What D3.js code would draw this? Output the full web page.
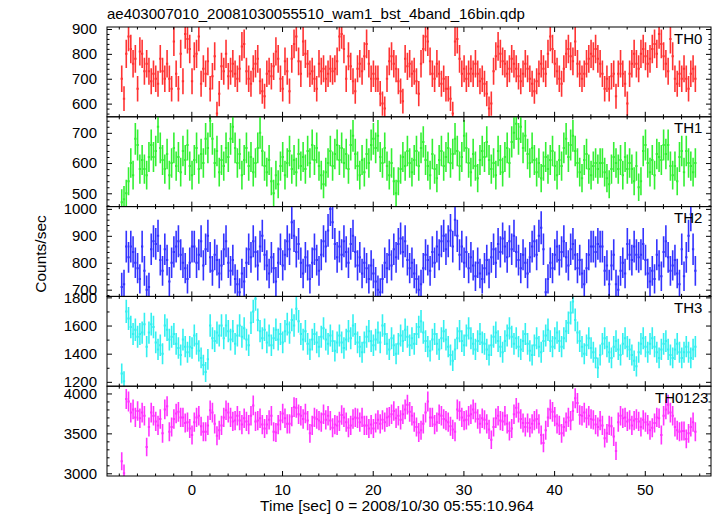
<!DOCTYPE html>
<html><head><meta charset="utf-8">
<script src="https://cdn.jsdelivr.net/npm/d3@7"></script>
<style>
body{margin:0;background:#fff}
svg{display:block}
text{font-family:"Liberation Sans",Arial,Helvetica,sans-serif}
</style>
</head><body>
<svg id="c" width="717" height="516"></svg>
<script>
// ---------------- data ----------------
const title = "ae403007010_20081030055510_wam1_bst_4band_16bin.qdp";
const xLabel = "Time [sec] 0 = 2008/10/30 05:55:10.964";
const yLabel = "Counts/sec";
const channels = ["TH0", "TH1", "TH2", "TH3", "TH0123"];
const binStart = -7.8;      // s, start of first bin
const binSeconds = 0.25;    // s, bin width
const xRange = [-9.3, 57.3];
const xMajorTicks = [0, 10, 20, 30, 40, 50];

const th0 = [
700,620,800,870,820,760,780,660,810,800,730,760,730,690,720,700,
680,780,730,700,760,700,660,850,720,660,800,690,880,860,820,690,
790,800,870,680,740,720,770,660,710,790,560,640,750,730,800,710,
730,760,720,700,740,830,840,730,700,680,740,760,780,690,650,630,
720,730,710,750,810,780,700,660,770,730,650,780,840,870,770,720,
850,800,760,720,730,700,660,760,730,740,700,720,740,730,740,770,
870,880,820,700,790,750,690,650,740,760,730,790,840,760,700,720,
700,700,640,600,580,700,770,790,760,740,690,650,610,780,750,760,
720,730,690,640,760,820,870,850,770,720,700,760,720,680,700,660,
660,620,560,850,860,780,720,740,700,720,740,720,760,720,690,700,
680,640,580,600,730,790,830,800,770,760,720,740,780,760,740,710,
690,720,760,740,700,680,650,690,720,760,740,720,800,870,820,760,
730,700,680,740,800,820,790,770,850,760,720,700,720,760,780,800,
790,820,780,760,720,660,700,660,710,720,630,720,760,720,680,600,
720,760,800,760,740,800,820,790,760,780,820,840,800,880,840,790,
760,730,860,790,700,680,720,700,740,700,660,720,740,700];

const th1 = [
470,480,500,540,600,560,680,660,580,610,580,560,620,660,620,640,
720,650,610,580,630,560,600,650,590,620,570,640,610,660,590,560,
610,650,580,630,600,680,650,740,680,600,640,570,610,590,650,620,
680,720,650,600,630,560,610,650,590,620,570,600,650,700,640,590,
570,610,540,500,560,530,590,620,560,600,640,580,610,570,630,590,
620,580,640,600,660,610,650,590,560,530,570,600,640,590,630,660,
610,650,600,630,580,660,690,630,590,560,610,570,630,600,660,680,
650,690,620,600,650,590,560,600,540,500,540,580,620,590,640,600,
570,610,640,590,650,670,610,590,560,630,580,550,610,640,590,620,
650,600,630,680,640,590,620,690,650,600,570,630,590,550,610,640,
620,670,610,580,600,560,640,610,570,620,650,600,670,700,730,680,
720,650,690,630,600,650,610,570,600,550,590,620,580,610,640,590,
560,610,590,650,680,620,660,690,640,600,570,550,610,630,580,560,
590,600,580,600,600,570,550,530,580,620,600,580,610,560,620,580,
600,580,540,590,520,540,640,660,600,570,610,560,630,620,610,660,
630,660,590,560,590,540,620,640,570,640,600,590,570,600];

const th2 = [
710,720,860,820,860,840,800,780,740,860,770,700,710,850,880,870,
900,810,770,850,810,730,800,840,860,880,830,800,780,740,800,860,
860,800,830,880,790,850,900,820,770,830,810,760,790,850,880,800,
770,810,740,720,690,760,730,800,850,820,880,840,790,860,900,830,
790,760,820,780,730,800,850,790,830,880,850,950,900,840,870,800,
760,820,790,740,800,850,810,770,830,880,860,920,1000,950,870,820,
860,830,880,840,800,870,900,840,790,820,760,800,780,740,790,760,
730,700,690,740,800,780,830,790,850,820,870,890,840,880,810,780,
800,760,740,700,720,780,830,810,770,840,800,860,830,880,900,850,
880,920,860,960,900,830,860,800,840,780,820,790,750,800,760,740,
780,810,760,820,850,800,870,840,890,860,820,880,850,900,840,810,
780,830,800,760,820,860,880,830,900,930,850,690,740,800,780,830,
860,810,840,880,820,790,850,870,830,780,810,760,720,780,830,860,
860,840,870,860,860,770,790,720,790,830,720,700,770,800,760,870,
830,810,860,830,820,830,870,810,760,730,770,740,830,790,750,840,
880,820,770,790,810,760,720,850,750,820,900,980,850,770];

const th3 = [
1260,1205,1700,1650,1590,1540,1570,1520,1540,1550,1610,1450,1550,1610,1590,1480,
1430,1460,1400,1600,1570,1500,1520,1540,1470,1440,1390,1500,1450,1410,1450,1440,
1530,1470,1420,1370,1320,1270,1360,1600,1510,1490,1550,1530,1600,1510,1600,1560,
1500,1560,1470,1530,1600,1520,1580,1500,1460,1620,1700,1790,1640,1560,1510,1570,
1480,1530,1460,1510,1570,1500,1540,1480,1560,1610,1550,1640,1600,1720,1630,1540,
1500,1560,1470,1430,1500,1540,1480,1450,1520,1580,1500,1470,1530,1490,1420,1480,
1530,1480,1440,1500,1560,1510,1600,1540,1480,1450,1410,1480,1520,1560,1490,1460,
1500,1550,1480,1600,1540,1470,1430,1510,1460,1400,1470,1530,1490,1570,1520,1460,
1510,1470,1540,1590,1630,1550,1490,1450,1420,1500,1540,1470,1430,1510,1560,1500,
1450,1390,1350,1430,1510,1560,1490,1460,1530,1580,1510,1470,1430,1490,1540,1480,
1470,1430,1390,1460,1520,1550,1490,1450,1410,1490,1530,1580,1520,1470,1510,1450,
1430,1490,1540,1470,1420,1390,1460,1510,1450,1410,1490,1530,1570,1490,1450,1510,
1550,1490,1450,1510,1560,1620,1690,1770,1640,1550,1490,1450,1400,1460,1510,1440,
1410,1370,1300,1390,1470,1510,1450,1410,1370,1450,1490,1430,1390,1470,1510,1450,
1430,1390,1350,1310,1410,1470,1510,1450,1410,1470,1510,1450,1410,1370,1430,1470,
1490,1430,1390,1370,1430,1470,1410,1370,1410,1450,1410,1370,1430,1450];

const th0123 = [
3150,3000,3930,3900,3760,3800,3700,3780,3690,3760,3720,3330,3580,3760,3720,3650,
3600,3680,3500,3800,3840,3520,3580,3680,3750,3770,3700,3700,3630,3640,3560,3480,
3640,3700,3720,3590,3520,3520,3600,3790,3760,3620,3470,3540,3600,3700,3790,3760,
3700,3650,3660,3720,3660,3610,3690,3650,3610,3720,3850,3650,3660,3690,3610,3560,
3610,3670,3720,3520,3510,3610,3660,3750,3690,3620,3620,3710,3830,3820,3740,3720,
3680,3750,3660,3500,3600,3700,3680,3660,3640,3740,3670,3720,3660,3570,3610,3600,
3650,3730,3700,3640,3570,3600,3680,3700,3690,3640,3700,3600,3600,3560,3610,3560,
3630,3670,3620,3670,3640,3700,3710,3740,3780,3690,3720,3670,3740,3800,3860,3770,
3720,3640,3580,3510,3540,3620,3760,3900,3700,3700,3610,3640,3740,3720,3680,3660,
3640,3590,3550,3520,3800,3780,3700,3660,3670,3720,3740,3800,3760,3680,3620,3690,
3670,3620,3550,3420,3580,3690,3720,3660,3650,3720,3620,3530,3560,3740,3820,3760,
3680,3630,3580,3630,3570,3620,3660,3680,3620,3480,3380,3540,3700,3800,3770,3710,
3620,3600,3500,3580,3640,3700,3660,3780,3940,3880,3730,3720,3760,3690,3720,3680,
3670,3610,3580,3660,3600,3440,3500,3600,3590,3460,3280,3640,3720,3690,3700,3650,
3670,3600,3660,3680,3650,3580,3670,3640,3610,3540,3570,3630,3700,3690,3480,3720,
3800,3860,3760,3720,3580,3540,3520,3530,3530,3430,3500,3580,3640,3520];

const series = [th0, th1, th2, th3, th0123];
const yRanges = [[547, 908], [456, 753], [675, 1008.5], [1169, 1807], [2966, 4091]];
const yMajorTicks = [[600,700,800,900],[500,600,700],[700,800,900,1000],[1200,1400,1600,1800],[3000,3500,4000]];
const yMinorStep = [20, 20, 20, 100, 100];
const colors = ["#ff3333", "#33f033", "#3333ff", "#33f0f0", "#ff33ff"];

// ---------------- layout ----------------
const L = 107, R = 711, T = 27, PH = 89.8;
const svg = d3.select("#c");
const x = d3.scaleLinear().domain(xRange).range([L, R]);
const xMinor = d3.range(-8, 57, 2).filter(v => v % 10 !== 0);
const FS = 15;

function styleAxis(g, showText) {
  g.select(".domain").remove();
  g.selectAll(".tick line").attr("stroke", "#000").attr("stroke-width", 1);
  g.selectAll("text").attr("font-size", FS).attr("fill", "#000")
    .attr("font-family", '"Liberation Sans",Arial,Helvetica,sans-serif');
  if (!showText) g.selectAll("text").remove();
}

channels.forEach((name, p) => {
  const top = T + p * PH, bot = top + PH;
  const y = d3.scaleLinear().domain(yRanges[p]).range([bot, top]);
  const data = series[p].map((v, i) => {
    const t = binStart + binSeconds * (i + 0.5);
    return {t, v, e: Math.sqrt(v / binSeconds)};
  });
  svg.append("clipPath").attr("id", "clip" + p)
    .append("rect").attr("x", L).attr("y", top).attr("width", R - L).attr("height", PH);
  const dg = svg.append("g").attr("clip-path", `url(#clip${p})`)
    .attr("stroke", colors[p]);
  dg.selectAll("line.h").data(data).join("line").attr("class", "h")
    .attr("stroke-width", 2)
    .attr("x1", d => x(d.t - binSeconds / 2)).attr("x2", d => x(d.t + binSeconds / 2))
    .attr("y1", d => y(d.v)).attr("y2", d => y(d.v));
  dg.selectAll("line.v").data(data).join("line").attr("class", "v")
    .attr("stroke-width", 1.6)
    .attr("x1", d => x(d.t)).attr("x2", d => x(d.t))
    .attr("y1", d => y(d.v - d.e)).attr("y2", d => y(d.v + d.e));

  // y ticks
  const yMinor = d3.range(Math.ceil(yRanges[p][0] / yMinorStep[p]) * yMinorStep[p], yRanges[p][1], yMinorStep[p])
    .filter(v => !yMajorTicks[p].includes(v));
  svg.append("g").attr("transform", `translate(${L},0)`)
    .call(d3.axisLeft(y).tickValues(yMajorTicks[p]).tickSizeInner(-5).tickSizeOuter(0).tickPadding(10).tickFormat(d3.format("d")))
    .call(g => styleAxis(g, true));
  svg.append("g").attr("transform", `translate(${L},0)`)
    .call(d3.axisLeft(y).tickValues(yMinor).tickSizeInner(-2.5).tickSizeOuter(0).tickFormat(""))
    .call(g => styleAxis(g, false));
  svg.append("g").attr("transform", `translate(${R},0)`)
    .call(d3.axisRight(y).tickValues(yMajorTicks[p]).tickSizeInner(-5).tickSizeOuter(0).tickFormat(""))
    .call(g => styleAxis(g, false));
  svg.append("g").attr("transform", `translate(${R},0)`)
    .call(d3.axisRight(y).tickValues(yMinor).tickSizeInner(-2.5).tickSizeOuter(0).tickFormat(""))
    .call(g => styleAxis(g, false));

  // x ticks
  const last = p === channels.length - 1;
  svg.append("g").attr("transform", `translate(0,${bot})`)
    .call(d3.axisBottom(x).tickValues(xMajorTicks).tickSizeInner(-5).tickSizeOuter(0).tickPadding(8).tickFormat(d3.format("d")))
    .call(g => styleAxis(g, last));
  svg.append("g").attr("transform", `translate(0,${bot})`)
    .call(d3.axisBottom(x).tickValues(xMinor).tickSizeInner(-2.5).tickSizeOuter(0).tickFormat(""))
    .call(g => styleAxis(g, false));
  svg.append("g").attr("transform", `translate(0,${top})`)
    .call(d3.axisTop(x).tickValues(xMajorTicks).tickSizeInner(-5).tickSizeOuter(0).tickFormat(""))
    .call(g => styleAxis(g, false));
  svg.append("g").attr("transform", `translate(0,${top})`)
    .call(d3.axisTop(x).tickValues(xMinor).tickSizeInner(-2.5).tickSizeOuter(0).tickFormat(""))
    .call(g => styleAxis(g, false));

  // frame
  svg.append("rect").attr("x", L).attr("y", top).attr("width", R - L).attr("height", PH)
    .attr("fill", "none").attr("stroke", "#000").attr("stroke-width", 1);

  // channel label
  svg.append("text").attr("x", name === "TH0123" ? 655 : 674).attr("y", top + 16.5)
    .attr("font-size", FS).attr("fill", "#000").text(name);
});

svg.append("text").attr("x", L).attr("y", 18.5).attr("font-size", FS).attr("fill", "#000").text(title);
svg.append("text").attr("x", 397).attr("y", 511).attr("text-anchor", "middle")
  .attr("font-size", 15.5).attr("fill", "#000").text(xLabel);
svg.append("text").attr("transform", "translate(46,254) rotate(-90)").attr("text-anchor", "middle")
  .attr("font-size", 15.5).attr("fill", "#000").text(yLabel);
</script>
</body></html>
